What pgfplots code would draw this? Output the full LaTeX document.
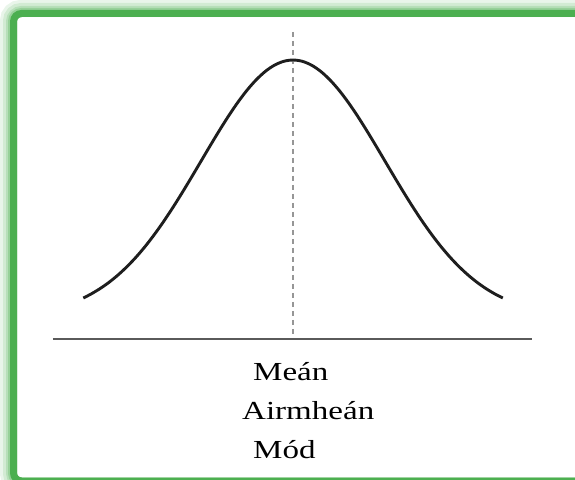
\documentclass[border=0pt]{standalone}
\usepackage{pgfplots}
\pgfplotsset{compat=1.18}
\usepackage{graphicx}
\usepackage{fontspec}
\setmainfont{Liberation Serif}
\definecolor{framegreen}{RGB}{76,175,80}
\definecolor{curvecol}{RGB}{30,30,30}
\definecolor{basecol}{RGB}{90,90,90}
\definecolor{meancol}{RGB}{150,150,150}

\begin{document}
\begin{tikzpicture}
  \path[use as bounding box] (0,0) rectangle (575pt,479pt);
  \begin{axis}[at={(0,0)}, anchor=south west, scale only axis,
      width=575pt, height=479pt, hide axis, clip=false,
      xmin=-3.185, xmax=3.065, ymin=-0.6297, ymax=1.2334]
    % frame: soft outer glow (inner edge kept fixed), then solid band
    \draw[framegreen, opacity=0.12, line width=17pt, rounded corners=12pt]
      (axis cs:3.4,1.2003) -- (axis cs:-3.0924,1.2003) -- (axis cs:-3.0924,-0.6569) -- (axis cs:3.4,-0.6569);
    \draw[framegreen, opacity=0.15, line width=14pt, rounded corners=11pt]
      (axis cs:3.4,1.1945) -- (axis cs:-3.0761,1.1945) -- (axis cs:-3.0761,-0.6511) -- (axis cs:3.4,-0.6511);
    \draw[framegreen, opacity=0.2, line width=11pt, rounded corners=10pt]
      (axis cs:3.4,1.1887) -- (axis cs:-3.0598,1.1887) -- (axis cs:-3.0598,-0.6453) -- (axis cs:3.4,-0.6453);
    \draw[framegreen, opacity=0.3, line width=9pt, rounded corners=9pt]
      (axis cs:3.4,1.1848) -- (axis cs:-3.0489,1.1848) -- (axis cs:-3.0489,-0.6414) -- (axis cs:3.4,-0.6414);
    \draw[framegreen, line width=7pt, rounded corners=8pt]
      (axis cs:3.4,1.1809) -- (axis cs:-3.038,1.1809) -- (axis cs:-3.038,-0.6375) -- (axis cs:3.4,-0.6375);
    % mean line
    \addplot[meancol, line width=2.6pt, dash pattern=on 5pt off 4pt]
      coordinates {(0,1.109) (0,-0.0852)};
    % baseline
    \addplot[basecol, line width=2pt] coordinates {(-2.609,-0.0852) (2.598,-0.0852)};
    % bell curve
    \addplot[curvecol, line width=2.9pt, smooth, line cap=butt] coordinates {
      (-2.28,0.0743) (-2.2,0.0889) (-2.1,0.1103) (-2.0,0.1353) (-1.9,0.1645)
      (-1.8,0.1979) (-1.7,0.2357) (-1.6,0.2780) (-1.5,0.3247) (-1.4,0.3753)
      (-1.3,0.4296) (-1.2,0.4868) (-1.1,0.5461) (-1.0,0.6065) (-0.9,0.6670)
      (-0.8,0.7261) (-0.7,0.7827) (-0.6,0.8353) (-0.5,0.8825) (-0.4,0.9231)
      (-0.3,0.9560) (-0.2,0.9802) (-0.1,0.9950) (0,1)
      (0.1,0.9950) (0.2,0.9802) (0.3,0.9560) (0.4,0.9231) (0.5,0.8825)
      (0.6,0.8353) (0.7,0.7827) (0.8,0.7261) (0.9,0.6670) (1.0,0.6065)
      (1.1,0.5461) (1.2,0.4868) (1.3,0.4296) (1.4,0.3753) (1.5,0.3247)
      (1.6,0.2780) (1.7,0.2357) (1.8,0.1979) (1.9,0.1645) (2.0,0.1353)
      (2.1,0.1103) (2.2,0.0889) (2.28,0.0743)};
    % labels
    \node[anchor=base west, inner sep=0pt] at (axis cs:-0.4348,-0.2447)
      {\fontsize{26}{30}\selectfont\scalebox{1.27}[1]{Meán}};
    \node[anchor=base west, inner sep=0pt] at (axis cs:-0.5543,-0.4002)
      {\fontsize{26}{30}\selectfont\scalebox{1.27}[1]{Airmheán}};
    \node[anchor=base west, inner sep=0pt] at (axis cs:-0.4348,-0.5519)
      {\fontsize{26}{30}\selectfont\scalebox{1.27}[1]{Mód}};
  \end{axis}
\end{tikzpicture}
\end{document}
